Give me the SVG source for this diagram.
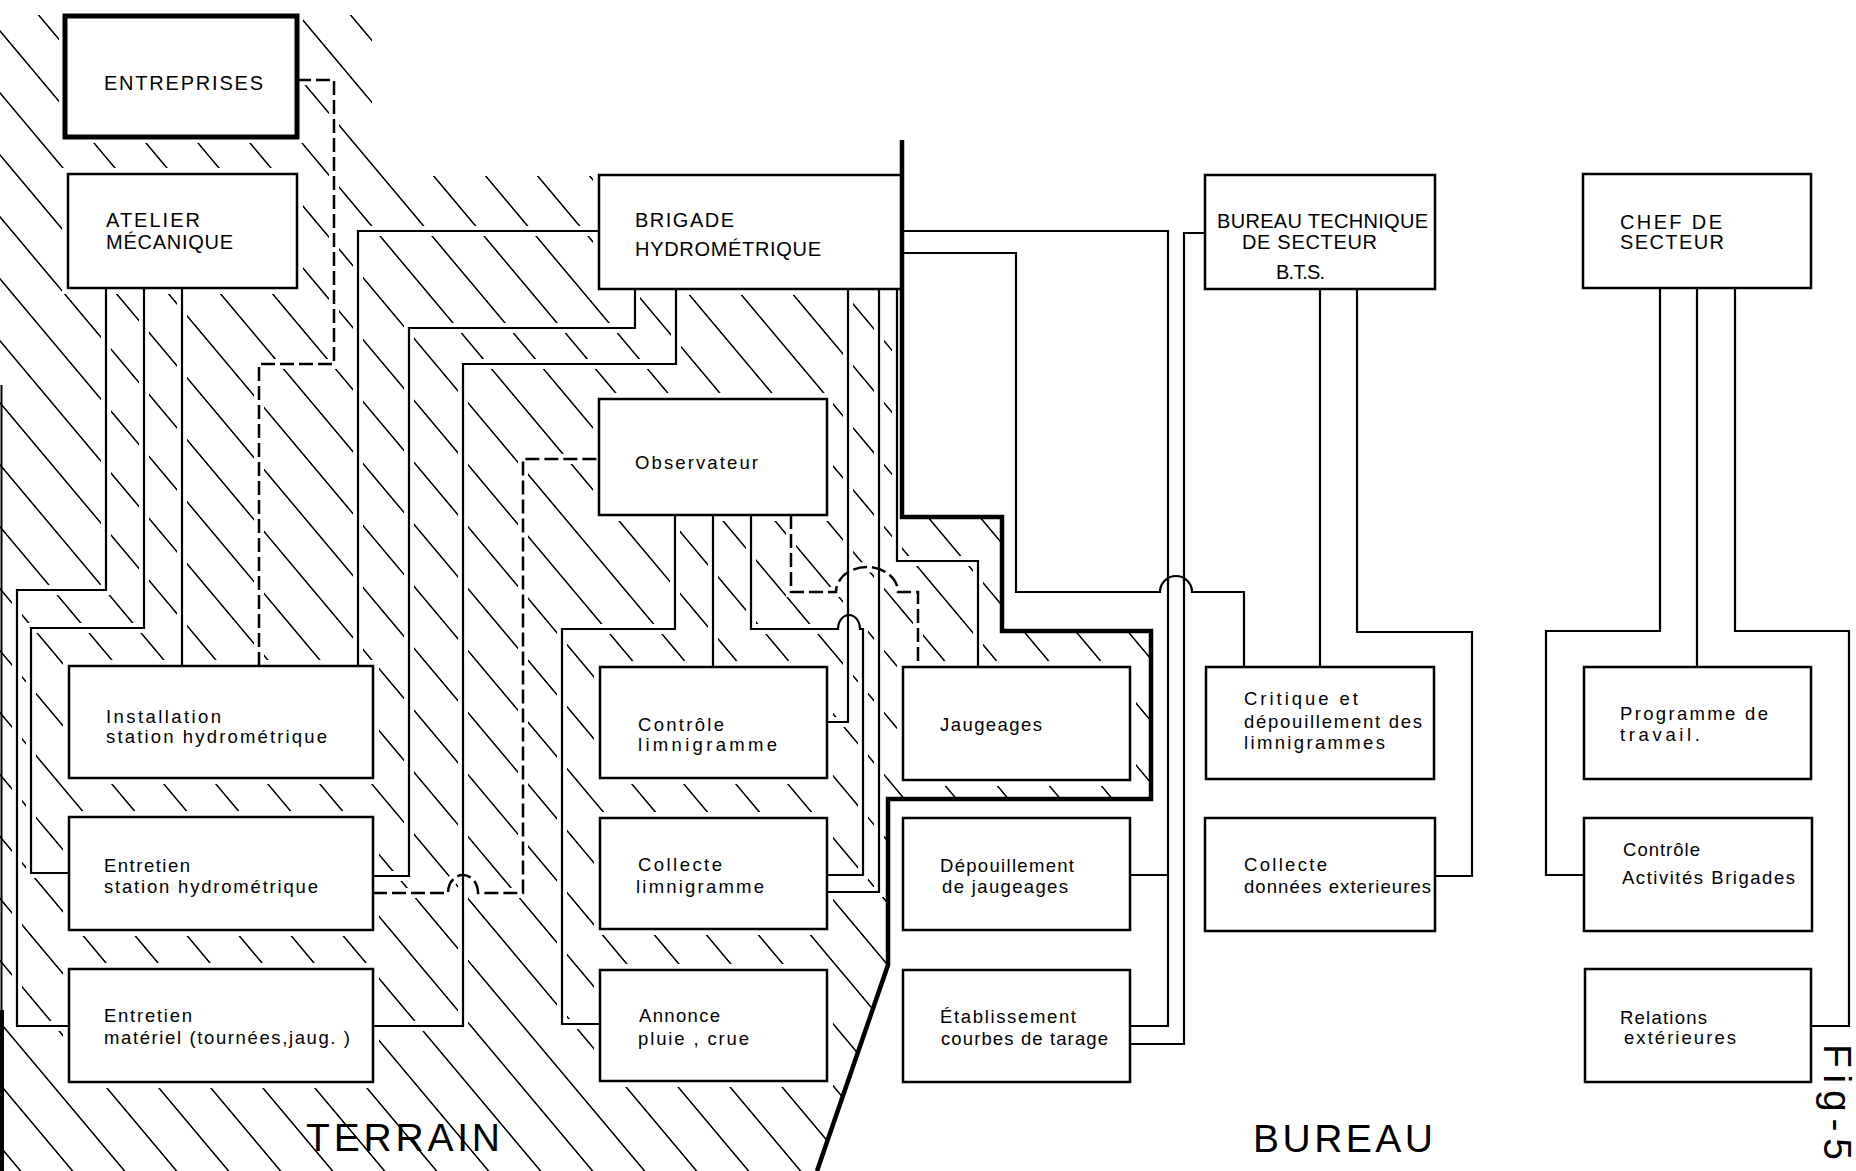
<svg xmlns="http://www.w3.org/2000/svg" width="1856" height="1171" viewBox="0 0 1856 1171">
<style>
.box{fill:#fff;stroke:#000;stroke-width:2.5}
.thick{fill:#fff;stroke:#000;stroke-width:5}
.c{fill:none;stroke:#000;stroke-width:2.2}
.d{fill:none;stroke:#000;stroke-width:2.5;stroke-dasharray:14 5}
.h{fill:none;stroke:#fff;stroke-width:10}
.hb{fill:#fff;stroke:#fff;stroke-width:12}
.zone{fill:none;stroke:#000;stroke-width:4.5;stroke-linejoin:miter}
text{font-family:"Liberation Sans",Arial,sans-serif;fill:#000}
.t{font-size:18.5px}
.T{font-size:20px}
.big{font-size:39px}
</style>
<defs>
<pattern id="hatch" width="52" height="20" patternUnits="userSpaceOnUse" patternTransform="skewX(40)">
<line x1="26" y1="-2" x2="26" y2="22" stroke="#000" stroke-width="2"/>
</pattern>
</defs>
<rect width="1856" height="1171" fill="#fff"/>
<g id="terrain-zone">
<path d="M0,15 H372 V140 L415,176 H902 V517 H1002 V631 H1151 V799 H888 V965 L817,1171 H0 Z" fill="url(#hatch)"/>
</g>
<g id="halos">
<rect class="hb" x="65" y="16" width="232" height="121"/>
<rect class="hb" x="68" y="174" width="229" height="114"/>
<rect class="hb" x="599" y="175" width="302" height="114"/>
<rect class="hb" x="599" y="399" width="228" height="116"/>
<rect class="hb" x="69" y="666" width="304" height="112"/>
<rect class="hb" x="69" y="817" width="304" height="113"/>
<rect class="hb" x="69" y="969" width="304" height="113"/>
<rect class="hb" x="600" y="667" width="227" height="111"/>
<rect class="hb" x="600" y="818" width="227" height="111"/>
<rect class="hb" x="600" y="970" width="227" height="111"/>
<rect class="hb" x="903" y="667" width="227" height="113"/>
<path class="h" d="M297,80 H334 V364 H259 V666"/>
<path class="h" d="M106,288 V590 H17 V1026 H69"/>
<path class="h" d="M144,288 V628 H31 V873 H69"/>
<path class="h" d="M182,288 V666"/>
<path class="h" d="M599,231 H358 V666"/>
<path class="h" d="M635,289 V328 H409 V876 H373"/>
<path class="h" d="M676,289 V364 H463 V1026 H373"/>
<path class="h" d="M373,893 H448 A15,18 0 0 1 478,893 H523 V459 H599"/>
<path class="h" d="M848,289 V722 H827"/>
<path class="h" d="M879,289 V892 H827"/>
<path class="h" d="M897,289 V561 H978 V667"/>
<path class="h" d="M675,515 V629 H562 V1024 H600"/>
<path class="h" d="M713,515 V667"/>
<path class="h" d="M751,515 V629 H838 A11,14 0 0 1 860,629 H863 V875 H827"/>
<path class="h" d="M791,515 V592 H836 A31,25 0 0 1 898,592 H918 V667"/>
</g>
<g id="frame">
<line x1="1.5" y1="385" x2="1.5" y2="1171" stroke="#000" stroke-width="2"/>
<line x1="2" y1="1010" x2="2" y2="1171" stroke="#000" stroke-width="4"/>
<path class="zone" d="M902,140 V517 H1002 V631 H1151 V799 H888 V965 L817,1171"/>
</g>
<g id="connectors">
<path class="d" d="M297,80 H334 V364 H259 V666"/>
<path class="c" d="M106,288 V590 H17 V1026 H69"/>
<path class="c" d="M144,288 V628 H31 V873 H69"/>
<path class="c" d="M182,288 V666"/>
<path class="c" d="M599,231 H358 V666"/>
<path class="c" d="M635,289 V328 H409 V876 H373"/>
<path class="c" d="M676,289 V364 H463 V1026 H373"/>
<path class="d" d="M373,893 H448 A15,18 0 0 1 478,893 H523 V459 H599"/>
<path class="c" d="M848,289 V722 H827"/>
<path class="c" d="M879,289 V892 H827"/>
<path class="c" d="M897,289 V561 H978 V667"/>
<path class="c" d="M675,515 V629 H562 V1024 H600"/>
<path class="c" d="M713,515 V667"/>
<path class="c" d="M751,515 V629 H838 A11,14 0 0 1 860,629 H863 V875 H827"/>
<path class="d" d="M791,515 V592 H836 A31,25 0 0 1 898,592 H918 V667"/>
<path class="c" d="M901,231 H1168 V1026 H1130 M1168,875 H1130"/>
<path class="c" d="M1205,233 H1184 V1044 H1130"/>
<path class="c" d="M901,253 H1016 V592 H1160 A16,16 0 0 1 1192,592 H1244 V667"/>
<path class="c" d="M1320,289 V667"/>
<path class="c" d="M1357,289 V632 H1472 V876 H1435"/>
<path class="c" d="M1660,288 V631 H1546 V875 H1584"/>
<path class="c" d="M1697,288 V667"/>
<path class="c" d="M1735,288 V631 H1849 V1026 H1811"/>
</g>
<g id="entreprises">
<rect class="thick" x="65" y="16" width="232" height="121"/>
<text class="T" x="104" y="90" font-size="21" textLength="159">ENTREPRISES</text>
</g>
<g id="atelier">
<rect class="box" x="68" y="174" width="229" height="114"/>
<text class="T" x="106" y="227" textLength="94">ATELIER</text>
<text class="T" x="106" y="249" textLength="127">MÉCANIQUE</text>
</g>
<g id="brigade">
<rect class="box" x="599" y="175" width="302" height="114"/>
<text class="T" x="635" y="227" textLength="99">BRIGADE</text>
<text class="T" x="635" y="256" textLength="186">HYDROMÉTRIQUE</text>
</g>
<g id="observateur">
<rect class="box" x="599" y="399" width="228" height="116"/>
<text class="t" x="635" y="469" textLength="123">Observateur</text>
</g>
<g id="installation">
<rect class="box" x="69" y="666" width="304" height="112"/>
<text class="t" x="106" y="723" textLength="115">Installation</text>
<text class="t" x="106" y="743" textLength="221">station hydrométrique</text>
</g>
<g id="entretien-station">
<rect class="box" x="69" y="817" width="304" height="113"/>
<text class="t" x="104" y="872" textLength="86">Entretien</text>
<text class="t" x="104" y="893" textLength="214">station hydrométrique</text>
</g>
<g id="entretien-materiel">
<rect class="box" x="69" y="969" width="304" height="113"/>
<text class="t" x="104" y="1022" textLength="88">Entretien</text>
<text class="t" x="104" y="1044" textLength="246">matériel (tournées,jaug. )</text>
</g>
<g id="controle-limnigramme">
<rect class="box" x="600" y="667" width="227" height="111"/>
<text class="t" x="638" y="731" textLength="86">Contrôle</text>
<text class="t" x="638" y="751" textLength="139">limnigramme</text>
</g>
<g id="collecte-limnigramme">
<rect class="box" x="600" y="818" width="227" height="111"/>
<text class="t" x="638" y="871" textLength="84">Collecte</text>
<text class="t" x="636" y="893" textLength="128">limnigramme</text>
</g>
<g id="annonce">
<rect class="box" x="600" y="970" width="227" height="111"/>
<text class="t" x="639" y="1022" textLength="81">Annonce</text>
<text class="t" x="638" y="1045" textLength="111">pluie , crue</text>
</g>
<g id="jaugeages">
<rect class="box" x="903" y="667" width="227" height="113"/>
<text class="t" x="940" y="731" textLength="102">Jaugeages</text>
</g>
<g id="depouillement">
<rect class="box" x="903" y="818" width="227" height="112"/>
<text class="t" x="940" y="872" textLength="134">Dépouillement</text>
<text class="t" x="942" y="893" textLength="126">de jaugeages</text>
</g>
<g id="etablissement">
<rect class="box" x="903" y="970" width="227" height="112"/>
<text class="t" x="940" y="1023" textLength="136">Établissement</text>
<text class="t" x="941" y="1045" textLength="167">courbes de tarage</text>
</g>
<g id="bts">
<rect class="box" x="1205" y="175" width="230" height="114"/>
<text class="T" x="1217" y="228" font-size="19" textLength="211">BUREAU TECHNIQUE</text>
<text class="T" x="1242" y="249" font-size="19" textLength="135">DE SECTEUR</text>
<text class="T" x="1276" y="279" font-size="19" textLength="49">B.T.S.</text>
</g>
<g id="chef">
<rect class="box" x="1583" y="174" width="228" height="114"/>
<text class="T" x="1620" y="229" textLength="102">CHEF DE</text>
<text class="T" x="1620" y="249" textLength="104">SECTEUR</text>
</g>
<g id="critique">
<rect class="box" x="1206" y="667" width="228" height="112"/>
<text class="t" x="1244" y="705" textLength="114">Critique et</text>
<text class="t" x="1244" y="728" textLength="178">dépouillement des</text>
<text class="t" x="1244" y="749" textLength="141">limnigrammes</text>
</g>
<g id="collecte-donnees">
<rect class="box" x="1205" y="818" width="230" height="113"/>
<text class="t" x="1244" y="871" textLength="83">Collecte</text>
<text class="t" x="1244" y="893" textLength="187">données exterieures</text>
</g>
<g id="programme">
<rect class="box" x="1584" y="667" width="227" height="112"/>
<text class="t" x="1620" y="720" textLength="148">Programme de</text>
<text class="t" x="1620" y="741" textLength="80">travail.</text>
</g>
<g id="controle-activites">
<rect class="box" x="1584" y="818" width="228" height="113"/>
<text class="t" x="1623" y="856" textLength="77">Contrôle</text>
<text class="t" x="1622" y="884" textLength="173">Activités Brigades</text>
</g>
<g id="relations">
<rect class="box" x="1585" y="969" width="226" height="113"/>
<text class="t" x="1620" y="1024" textLength="87">Relations</text>
<text class="t" x="1624" y="1044" textLength="112">extérieures</text>
</g>
<g id="labels">
<text class="big" x="306" y="1151" textLength="194">TERRAIN</text>
<text class="big" x="1253" y="1152" font-size="37" textLength="180">BUREAU</text>
<text class="big" font-size="36" transform="translate(1824,1044) rotate(90)" textLength="116">Fig-5</text>
</g>
</svg>
